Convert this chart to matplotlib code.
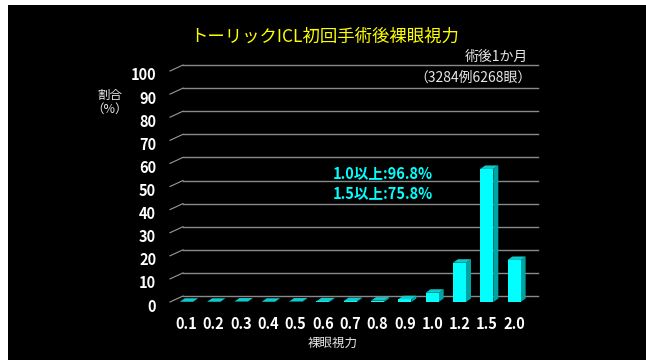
import matplotlib
matplotlib.use("Agg")
import matplotlib.pyplot as plt
from matplotlib.patches import Polygon, Rectangle
from matplotlib.transforms import ScaledTranslation

plt.rcParams['font.family'] = ['Noto Sans CJK JP', 'DejaVu Sans']

categories = ["0.1", "0.2", "0.3", "0.4", "0.5", "0.6", "0.7", "0.8", "0.9", "1.0", "1.2", "1.5", "2.0"]
values = [0.1, 0.1, 0.2, 0.1, 0.2, 0.3, 0.4, 0.6, 1.2, 4.0, 17.0, 57.6, 18.2]
yticks = [0, 10, 20, 30, 40, 50, 60, 70, 80, 90, 100]

title = "トーリックICL初回手術後裸眼視力"
subtitle1 = "術後1か月"
subtitle2 = "（3284例6268眼）"
notes = ["1.0以上:96.8%", "1.5以上:75.8%"]
ylabel = "割合\n（%）"
xlabel = "裸眼視力"

W, H = 646, 360
fig = plt.figure(figsize=(W / 100, H / 100), dpi=100, facecolor='white')
# black slide background
fig.patches.append(Rectangle((8 / W, 0), 1 - 8 / W, 1 - 5 / H, transform=fig.transFigure,
                             facecolor='black', edgecolor='none', zorder=-10))

ax_l, ax_r, ax_b, ax_t = 170, 525, 302, 71  # pixel coords (from top for b,t)
ax = fig.add_axes([ax_l / W, (H - ax_b) / H, (ax_r - ax_l) / W, (ax_b - ax_t) / H])
ax.set_facecolor('none')
x0, x1 = -0.6, 12.4
ax.set_xlim(x0, x1)
ax.set_ylim(0, 100)
for s in ax.spines.values():
    s.set_visible(False)

# data units per pixel
ux = (x1 - x0) / (ax_r - ax_l)
uy = 100 / (ax_b - ax_t)

# back wall gridlines with slanted front connectors
wdx, wdy = 13 * ux, 6 * uy
for t in yticks:
    ax.plot([x0, x0 + wdx], [t, t + wdy], color='#9a9a9a', lw=0.8, zorder=1, clip_on=False)
    ax.plot([x0 + wdx, x1 + wdx], [t + wdy, t + wdy], color='#8a8a8a', lw=1.0, zorder=1, clip_on=False)

# 3D-ish bars
xs = list(range(len(categories)))
w = 0.48
bdx, bdy = 5 * ux, 3.5 * uy
ax.bar(xs, values, width=w, color='#00FFFF', zorder=4, linewidth=0)
for x, v in zip(xs, values):
    side = Polygon([(x + w / 2, 0), (x + w / 2 + bdx, bdy), (x + w / 2 + bdx, v + bdy), (x + w / 2, v)],
                   closed=True, facecolor='#00A3A3', edgecolor='none', zorder=3, clip_on=False)
    top = Polygon([(x - w / 2, v), (x - w / 2 + bdx, v + bdy), (x + w / 2 + bdx, v + bdy), (x + w / 2, v)],
                  closed=True, facecolor='#12C8C8', edgecolor='none', zorder=5, clip_on=False)
    ax.add_patch(side)
    ax.add_patch(top)

ax.set_xticks(xs)
ax.set_xticklabels(categories, color='white', fontsize=10.5, fontweight='bold')
ax.set_yticks(yticks)
ax.set_yticklabels([str(t) for t in yticks], color='white', fontsize=10.5, fontweight='bold')
ax.tick_params(axis='x', length=0, pad=10)
ax.tick_params(axis='y', length=0, pad=10)
shift = ScaledTranslation(0, -3 / 100, fig.dpi_scale_trans)
for lab in ax.get_yticklabels():
    lab.set_transform(lab.get_transform() + shift)

# texts
fig.text(325 / W, 1 - 37 / H, title, color='#FFFF00', fontsize=12.5, ha='center', va='center')
fig.text(528 / W, 1 - 57 / H, subtitle1, color='#E6E6E6', fontsize=10, ha='right', va='center')
fig.text(532 / W, 1 - 78 / H, subtitle2, color='#E6E6E6', fontsize=10, ha='right', va='center')
fig.text(110 / W, 1 - 102 / H, ylabel, color='#E6E6E6', fontsize=9, ha='center', va='center',
         linespacing=1.1)
fig.text(333 / W, 1 - 343 / H, xlabel, color='#E6E6E6', fontsize=9, ha='center', va='center')
fig.text(333 / W, 1 - 173 / H, notes[0], color='#00FFFF', fontsize=10.5, fontweight='bold',
         ha='left', va='center')
fig.text(333 / W, 1 - 193 / H, notes[1], color='#00FFFF', fontsize=10.5, fontweight='bold',
         ha='left', va='center')

fig.savefig('out.png', dpi=100, facecolor='white')
